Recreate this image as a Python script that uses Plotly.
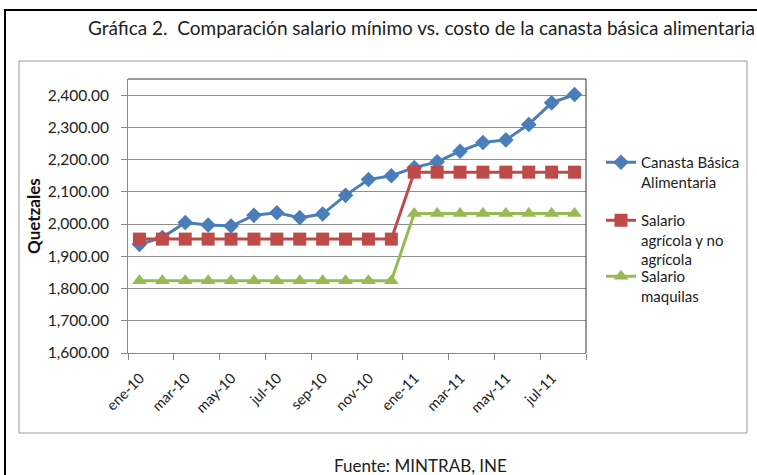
import plotly.graph_objects as go

months = ["ene-10", "feb-10", "mar-10", "abr-10", "may-10", "jun-10", "jul-10", "ago-10",
          "sep-10", "oct-10", "nov-10", "dic-10", "ene-11", "feb-11", "mar-11", "abr-11",
          "may-11", "jun-11", "jul-11", "ago-11"]
canasta = [1937, 1958, 2005, 1997, 1994, 2027, 2035, 2020, 2031, 2089, 2138, 2150,
           2175, 2193, 2226, 2253, 2261, 2309, 2376, 2402]
salario_agricola = [1953.33] * 12 + [2161.0] * 8
salario_maquilas = [1824.06] * 12 + [2032.42] * 8

y_ticks = [1600, 1700, 1800, 1900, 2000, 2100, 2200, 2300, 2400]
title_text = "Gráfica 2.  Comparación salario mínimo vs. costo de la canasta básica alimentaria"
source_text = "Fuente: MINTRAB, INE"
y_title = "Quetzales"

W, H = 757, 475
L, R, T, B = 128, 586, 79, 353
FONT = "Lato, 'Open Sans', sans-serif"

def px(x):
    return (x - L) / (R - L)

def py(y):
    return (B - y) / (B - T)

x_idx = list(range(len(months)))
tickvals = [i - 0.5 for i in range(0, len(months) + 1, 2)]
ticktext = [months[i] if i < len(months) else "" for i in range(0, len(months) + 1, 2)]

fig = go.Figure()
fig.add_trace(go.Scatter(
    x=x_idx, y=canasta, mode="lines+markers",
    name="Canasta Básica<br>Alimentaria",
    line=dict(color="#4A7EBB", width=3),
    marker=dict(symbol="diamond", size=12, color="#4A7EBB"),
    legend="legend"))
fig.add_trace(go.Scatter(
    x=x_idx, y=salario_agricola, mode="lines+markers",
    name="Salario<br>agrícola y no<br>agrícola",
    line=dict(color="#BE4B48", width=3),
    marker=dict(symbol="square", size=13, color="#BE4B48"),
    legend="legend2"))
fig.add_trace(go.Scatter(
    x=x_idx, y=salario_maquilas, mode="lines+markers",
    name="Salario<br>maquilas",
    line=dict(color="#98B954", width=3),
    marker=dict(symbol="triangle-up", size=13, color="#98B954"),
    legend="legend3"))

def leg(top):
    return dict(x=px(601), y=py(top), xanchor="left", yanchor="top",
                valign="top", itemwidth=30,
                font=dict(family=FONT, size=15, color="#222"),
                bgcolor="rgba(0,0,0,0)")

fig.update_layout(
    width=W, height=H,
    margin=dict(l=L, r=W - R, t=T, b=H - B, pad=0),
    paper_bgcolor="white", plot_bgcolor="white",
    font=dict(family=FONT, size=13, color="#222"),
    showlegend=True,
    legend=leg(146), legend2=leg(204), legend3=leg(260),
    xaxis=dict(range=[-0.5, len(months) - 0.5], tickmode="array",
               tickvals=tickvals, ticktext=ticktext, tickangle=-45,
               showgrid=False, zeroline=False, showline=True, linecolor="#8a8a8a",
               linewidth=1, mirror=False, ticks="outside", ticklen=6, tickcolor="#8a8a8a",
               ticklabelshift=12, ticklabelstandoff=4,
               tickfont=dict(family=FONT, size=14.5, color="#222")),
    yaxis=dict(range=[1600, 2450], tickmode="array", tickvals=y_ticks,
               tickformat=",.2f", showgrid=True, gridcolor="#8f8f8f", gridwidth=1,
               zeroline=False, showline=True, linecolor="#8a8a8a", linewidth=1,
               ticks="outside", ticklen=6, tickcolor="#8a8a8a",
               ticklabelstandoff=9,
               tickfont=dict(family=FONT, size=15.5, color="#222")),
)

shapes = [
    dict(type="rect", xref="paper", yref="paper", x0=px(5), x1=px(770), y0=py(10), y1=py(490),
         line=dict(color="black", width=2), layer="below"),
    dict(type="rect", xref="paper", yref="paper", x0=px(19), x1=px(747), y0=py(61), y1=py(433),
         line=dict(color="#9a9a9a", width=1), layer="below"),
    dict(type="line", xref="paper", yref="paper", x0=0, x1=1, y0=1, y1=1,
         line=dict(color="#333", width=1)),
    dict(type="line", xref="paper", yref="paper", x0=1, x1=1, y0=0, y1=1,
         line=dict(color="#333", width=1)),
]
fig.update_layout(shapes=shapes)

fig.add_annotation(text=title_text, xref="paper", yref="paper", x=px(421), y=py(27),
                   xanchor="center", yanchor="middle", showarrow=False,
                   font=dict(family=FONT, size=19, color="#222"))
fig.add_annotation(text=source_text, xref="paper", yref="paper", x=px(420), y=py(465),
                   xanchor="center", yanchor="middle", showarrow=False,
                   font=dict(family=FONT, size=17, color="#222"))
fig.add_annotation(text="<b>" + y_title + "</b>", xref="paper", yref="paper", x=px(33), y=py(216),
                   xanchor="center", yanchor="middle", showarrow=False, textangle=-90,
                   font=dict(family=FONT, size=17, color="#111"))

fig.write_html("out.html", config={"displayModeBar": False},
               post_script="document.body.style.margin='0px';document.body.style.overflow='hidden';")
